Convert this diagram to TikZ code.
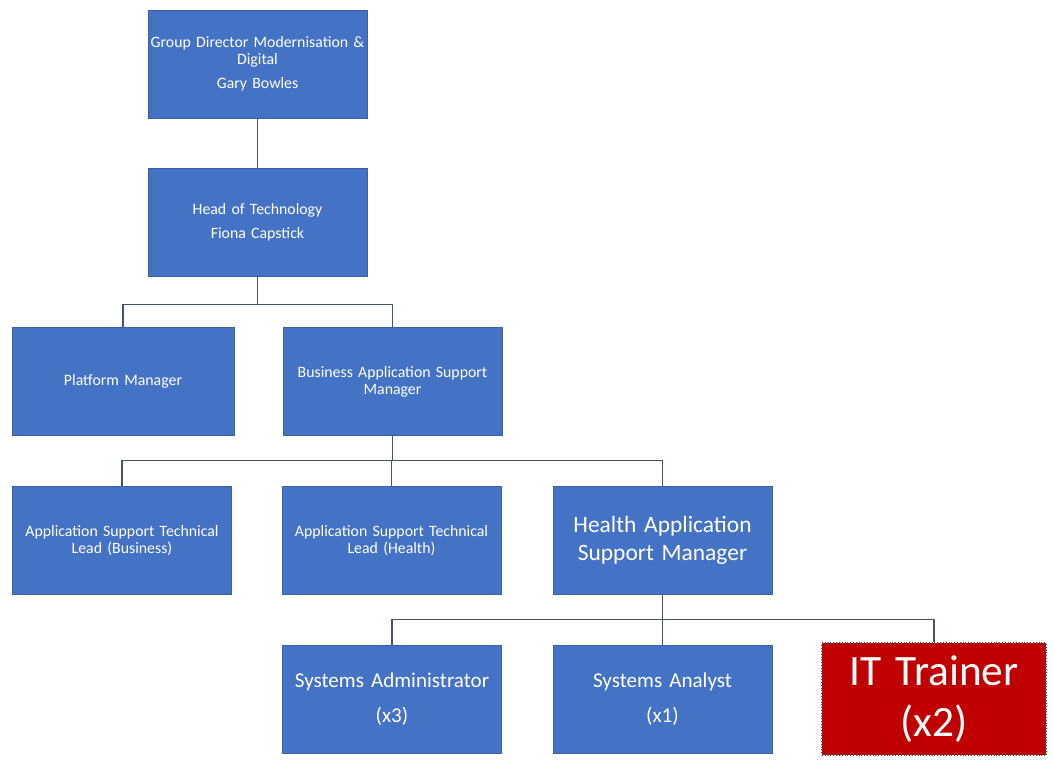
\documentclass[tikz,border=0pt]{standalone}
\usepackage{fontspec}
\setmainfont{Carlito}
\usepackage{tikz}
\definecolor{orgblue}{HTML}{4472C4}
\definecolor{orgred}{HTML}{C00000}
\definecolor{orgline}{HTML}{44546A}
\tikzset{
  orgbox/.style={fill=orgblue, draw=orgblue!85!black, line width=0.4pt, minimum width=6.57cm, minimum height=3.24cm, text width=6.5cm, align=center, inner sep=0pt, text=white, font=\fontsize{13.5}{14.5}\selectfont},
  orgbig/.style={orgbox, font=\fontsize{20}{24}\selectfont},
  orgmid/.style={orgbox, font=\fontsize{18}{30}\selectfont},
  trainerbox/.style={orgbox, fill=orgred, draw=black!70, dotted, line width=1pt, minimum width=6.72cm, minimum height=3.36cm, font=\fontsize{37}{44}\selectfont},
  orgconn/.style={line width=1.1pt, draw=orgline},
}
\begin{document}
\begin{tikzpicture}
\useasboundingbox (0,0) rectangle (31.59,-22.86);
\node[orgbox] (gd) at (7.725,-1.92) {Group Director Modernisation \&\\ Digital\\[6pt] Gary Bowles};
\node[orgbox] (hot) at (7.725,-6.675) {Head of Technology\\[6pt] Fiona Capstick};
\node[orgbox, minimum width=6.66cm] (pm) at (3.69,-11.445) {Platform Manager};
\node[orgbox] (basm) at (11.775,-11.445) {Business Application Support\\ Manager};
\node[orgbox] (astlb) at (3.66,-16.215) {Application Support Technical\\ Lead (Business)};
\node[orgbox] (astlh) at (11.745,-16.215) {Application Support Technical\\ Lead (Health)};
\node[orgbig] (hasm) at (19.875,-16.215) {Health Application\\ Support Manager};
\node[orgmid] (sa) at (11.76,-20.97) {Systems Administrator\\ (x3)};
\node[orgmid] (san) at (19.875,-20.97) {Systems Analyst\\ (x1)};
\node[trainerbox] (itt) at (28.02,-20.97) {IT Trainer\\ (x2)};
\draw[orgconn] (gd.south) -- (hot.north);
\draw[orgconn] (hot.south) -- ++(0,-0.84) -| (pm.north);
\draw[orgconn] (hot.south) -- ++(0,-0.84) -| (basm.north);
\draw[orgconn] (basm.south) -- ++(0,-0.75) -| (astlb.north);
\draw[orgconn] (basm.south) -- ++(0,-0.75) -| (astlh.north);
\draw[orgconn] (basm.south) -- ++(0,-0.75) -| (hasm.north);
\draw[orgconn] (hasm.south) -- ++(0,-0.75) -| (sa.north);
\draw[orgconn] (hasm.south) -- ++(0,-0.75) -| (san.north);
\draw[orgconn] (hasm.south) -- ++(0,-0.75) -| (itt.north);
\end{tikzpicture}
\end{document}
